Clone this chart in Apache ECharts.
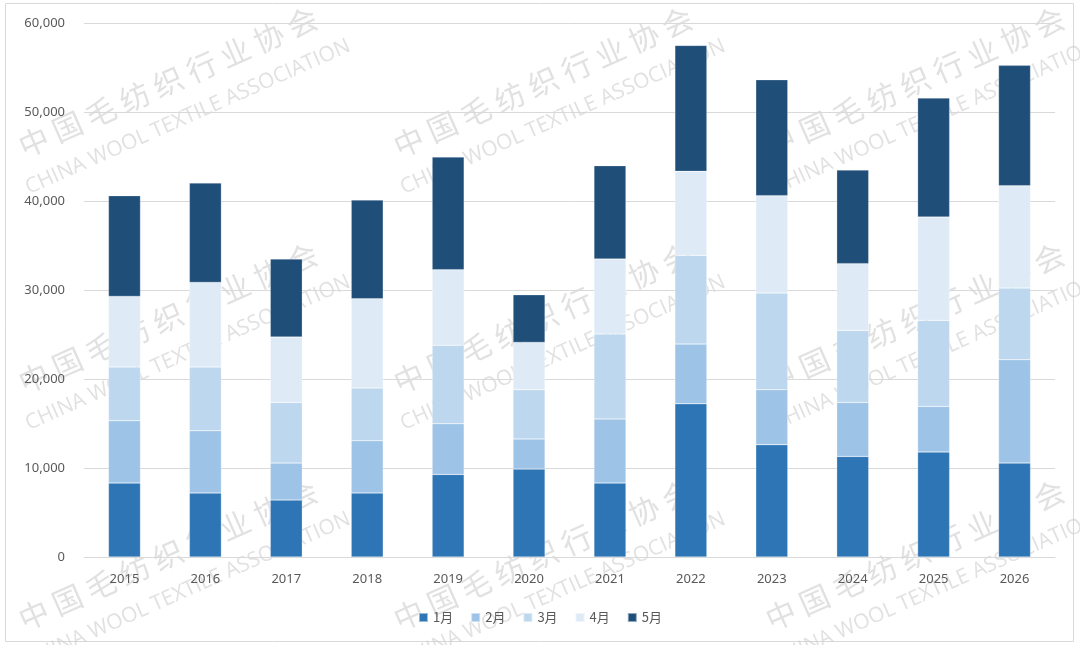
<!DOCTYPE html>
<html>
<head>
<meta charset="utf-8">
<script src="https://cdn.jsdelivr.net/npm/echarts@6/dist/echarts.min.js"></script>
<style>
  html, body { margin: 0; padding: 0; background: #fff; }
  #main { width: 1080px; height: 645px; }
</style>
</head>
<body>
<div id="main"></div>
<script>
var myChart = echarts.init(document.getElementById('main'));

var years = ['2015', '2016', '2017', '2018', '2019', '2020', '2021', '2022', '2023', '2024', '2025', '2026'];
var months = ['1月', '2月', '3月', '4月', '5月'];

var jan = [8310, 7190, 6400, 7190, 9280, 9890, 8310, 17220, 12620, 11300, 11800, 10560];
var feb = [7000, 7000, 4160, 5880, 5700, 3370, 7200, 6710, 6180, 6070, 5120, 11610];
var mar = [6040, 7160, 6810, 5920, 8800, 5540, 9550, 9960, 10860, 8090, 9660, 8050];
var apr = [7930, 9500, 7350, 10030, 8500, 5310, 8420, 9440, 10940, 7500, 11620, 11500];
var may = [11320, 11170, 8760, 11090, 12660, 5360, 10490, 14150, 13030, 10520, 13370, 13520];

var yTicks = [0, 10000, 20000, 30000, 40000, 50000, 60000];

var colors = ['#2E75B6', '#9DC3E6', '#BDD7EE', '#DEEBF7', '#1F4E79'];
var values = [jan, feb, mar, apr, may];

// watermark tiles
var wmX = [168, 543, 915];
var wmY = [82, 318, 555];
var wm = [];
wmX.forEach(function (x) {
    wmY.forEach(function (y) {
        wm.push({
            type: 'group',
            x: x,
            y: y,
            rotation: 24 * Math.PI / 180,
            z: 100,
            silent: true,
            children: [{
                type: 'text',
                style: {
                    text: '中 国 毛 纺 织 行 业 协 会',
                    x: 0,
                    y: 0,
                    align: 'center',
                    verticalAlign: 'middle',
                    font: '30px "Noto Sans CJK SC"',
                    fill: 'rgba(205,205,205,0.6)'
                }
            }, {
                type: 'text',
                style: {
                    text: 'CHINA WOOL TEXTILE ASSOCIATION',
                    x: 4,
                    y: 40,
                    align: 'center',
                    verticalAlign: 'middle',
                    font: '21px "Open Sans"',
                    fill: 'rgba(205,205,205,0.6)'
                }
            }]
        });
    });
});

wm.unshift({
    type: 'rect',
    shape: { x: 5.5, y: 3.5, width: 1068, height: 638 },
    style: { fill: 'none', stroke: '#d9d9d9', lineWidth: 1 },
    z: 0,
    silent: true
});

var series = months.map(function (m, i) {
    return {
        name: m,
        type: 'bar',
        stack: 'total',
        barWidth: 32,
        data: values[i],
        itemStyle: {
            color: colors[i],
            borderColor: 'rgba(255,255,255,0.5)',
            borderWidth: 0.5
        }
    };
});

option = {
    animation: false,
    textStyle: {
        fontFamily: '"Noto Sans", "Noto Sans CJK SC", sans-serif'
    },
    color: colors,
    grid: {
        left: 84,
        right: 25,
        top: 23,
        bottom: 88
    },
    legend: {
        data: months,
        bottom: 16,
        left: 'center',
        itemWidth: 9,
        itemHeight: 9,
        itemGap: 17,
        icon: 'rect',
        textStyle: {
            color: '#595959',
            fontSize: 13,
            fontFamily: '"Noto Sans CJK SC", sans-serif'
        }
    },
    xAxis: {
        type: 'category',
        data: years,
        axisTick: { show: false },
        axisLine: { lineStyle: { color: '#d9d9d9' } },
        axisLabel: {
            color: '#595959',
            fontSize: 13,
            margin: 16
        }
    },
    yAxis: {
        type: 'value',
        min: yTicks[0],
        max: yTicks[yTicks.length - 1],
        interval: 10000,
        axisLine: { show: false },
        axisTick: { show: false },
        splitLine: { lineStyle: { color: '#d9d9d9' } },
        axisLabel: {
            color: '#595959',
            fontSize: 13,
            margin: 19,
            formatter: function (v) {
                return v.toLocaleString('en-US');
            }
        }
    },
    graphic: wm,
    series: series
};

myChart.setOption(option);
</script>
</body>
</html>
